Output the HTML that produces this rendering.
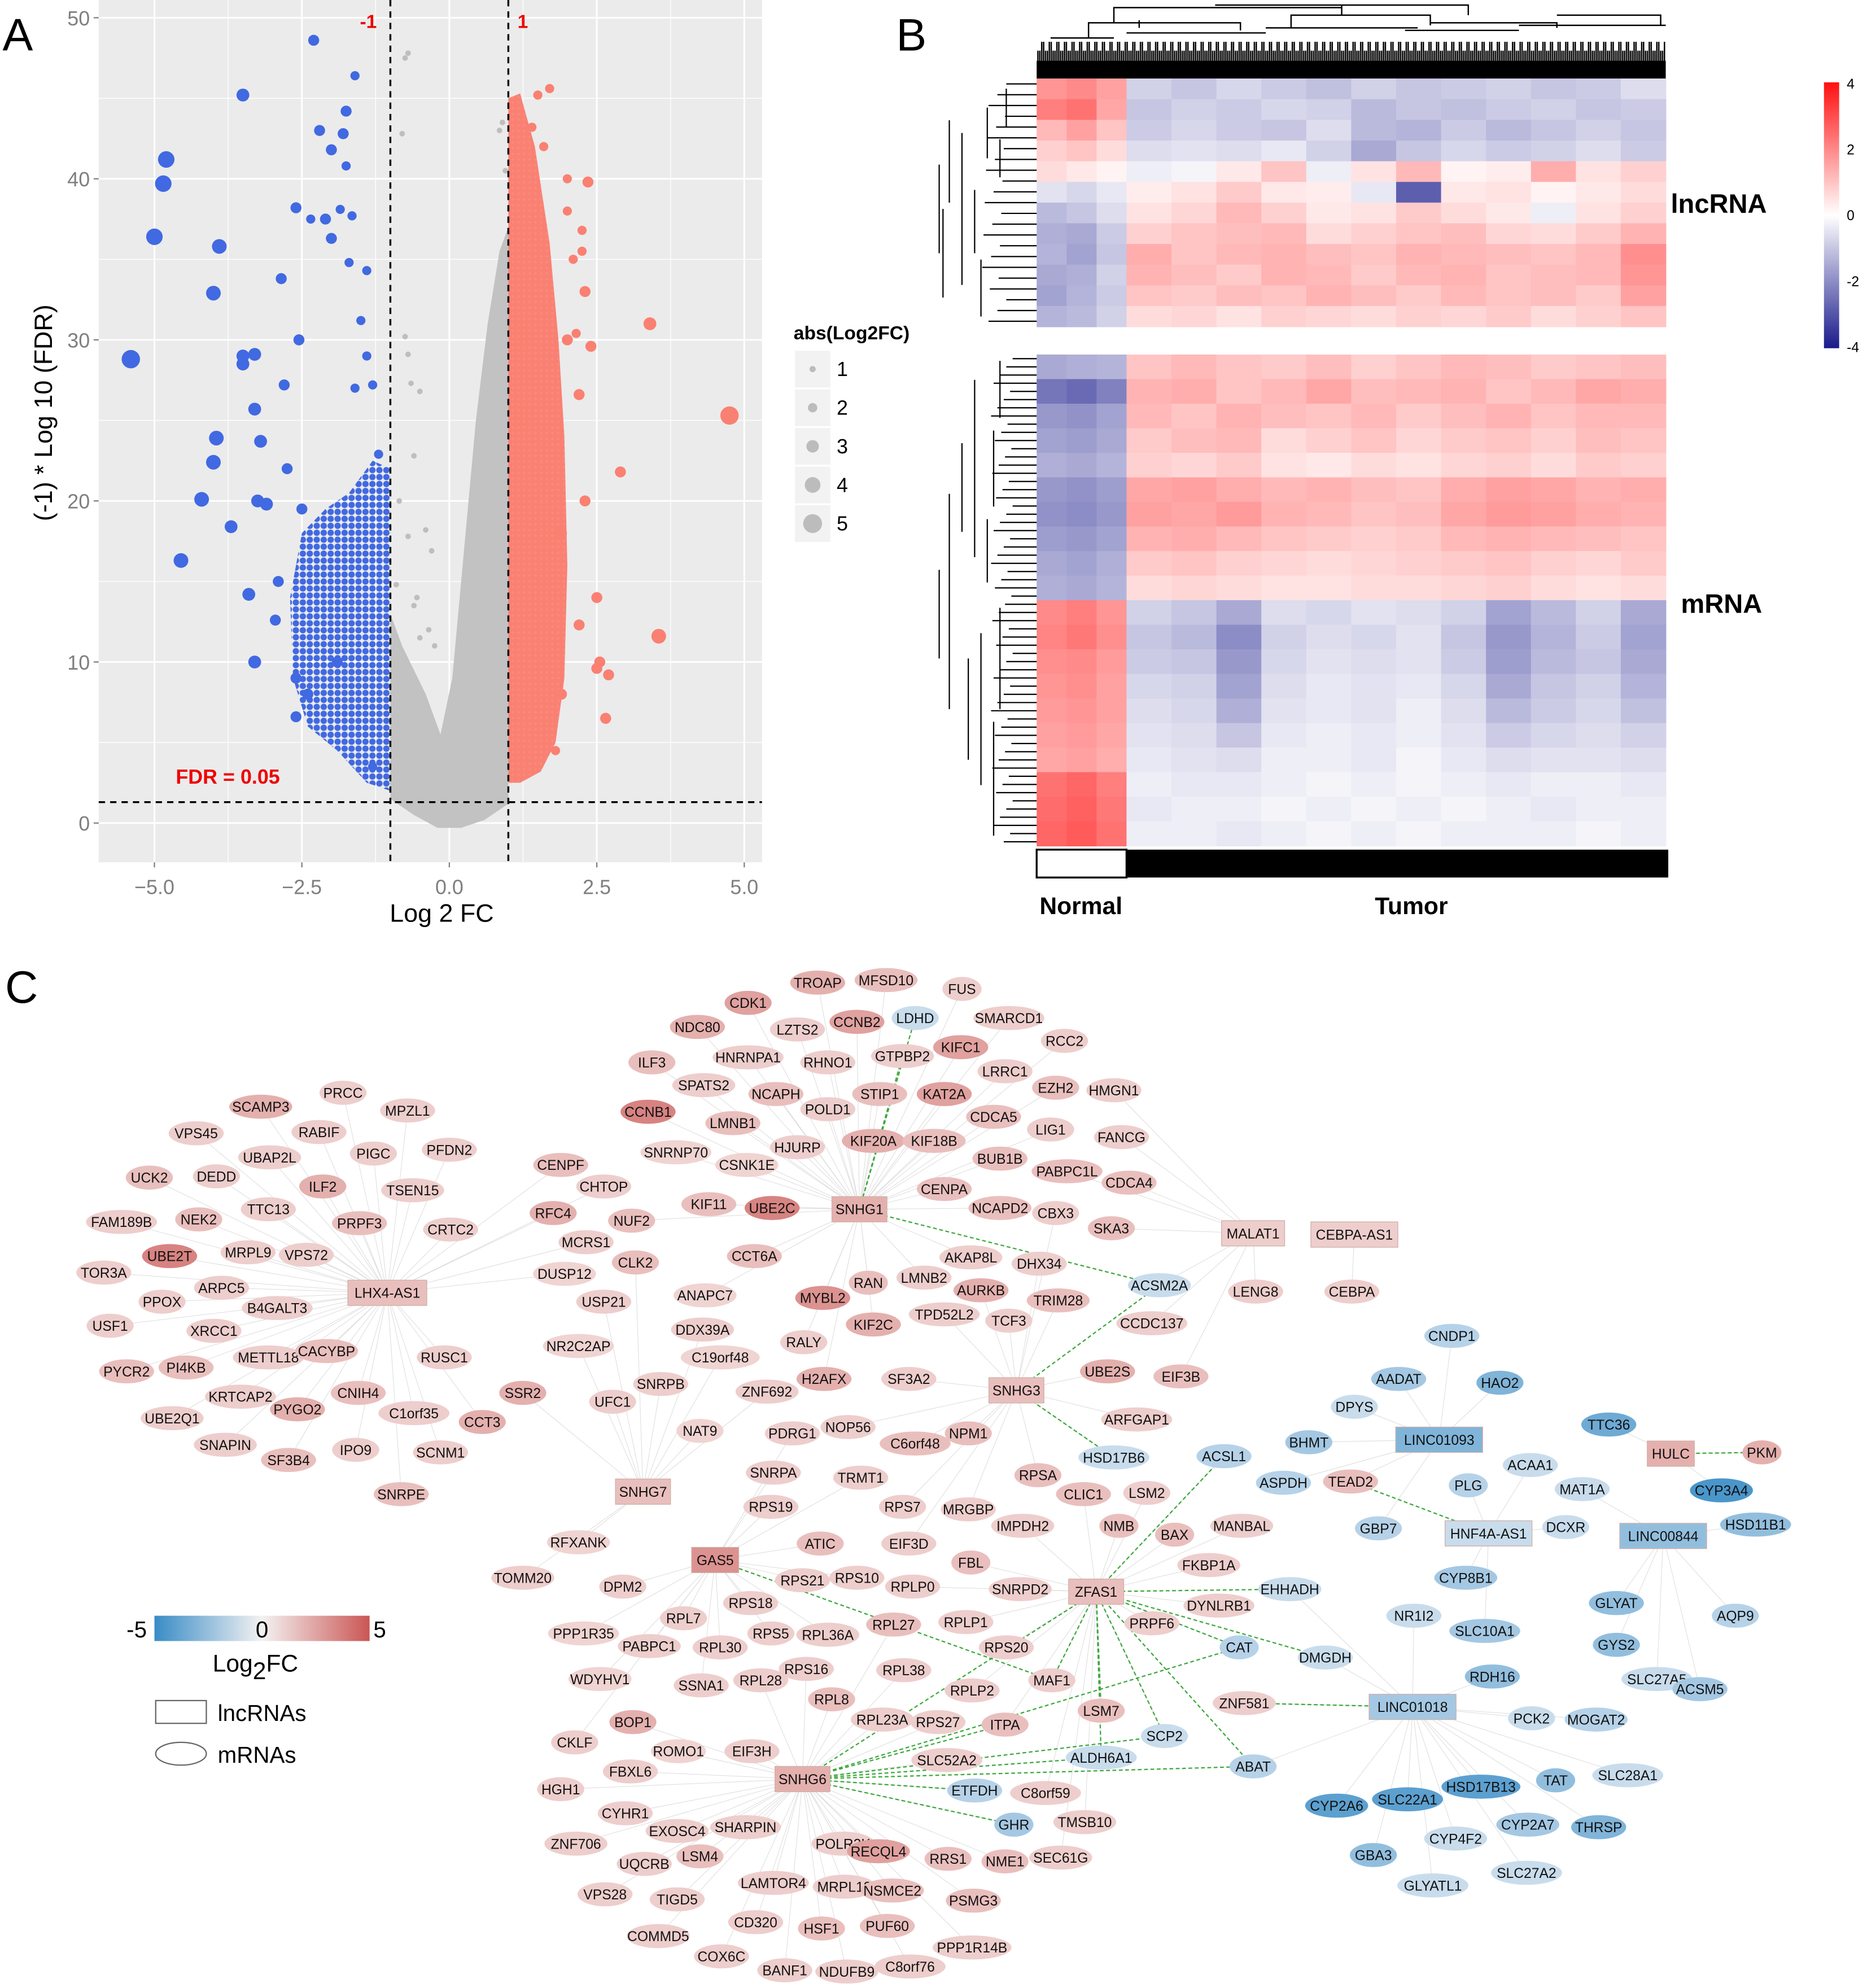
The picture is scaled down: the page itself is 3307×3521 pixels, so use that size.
<!DOCTYPE html>
<html><head><meta charset="utf-8"><style>
html,body{margin:0;padding:0;background:#fff}
svg{display:block;font-family:"Liberation Sans",sans-serif}
</style></head><body>
<svg id="fig" xmlns="http://www.w3.org/2000/svg" width="3307" height="3521" viewBox="0 0 1475 1570" preserveAspectRatio="none">
<defs>
<pattern id="pBlue" width="5.5" height="5.5" patternUnits="userSpaceOnUse"><circle cx="2.75" cy="2.75" r="2.5" fill="#4169e1"/></pattern>
<pattern id="pRed" width="4.5" height="4.5" patternUnits="userSpaceOnUse"><rect width="4.5" height="4.5" fill="#f68a7d"/><circle cx="2.25" cy="2.25" r="2.3" fill="#fa8072"/></pattern>
<pattern id="pGrey" width="4" height="4" patternUnits="userSpaceOnUse"><circle cx="2" cy="2" r="1.9" fill="#bebebe"/></pattern>
</defs>
<g id="gA"></g>
<g id="gB"></g>
<g id="gC"></g>
<text x="2" y="40" font-size="36">A</text>
<text x="708" y="40" font-size="36">B</text>
<text x="4" y="792" font-size="36">C</text>
</svg>
<script>
// ---------- Panel A data ----------
const blueX=[-5.4,-5.0,-4.8,-4.85,-4.55,-4.2,-3.9,-4.0,-3.95,-4.0,-3.7,-3.5,-3.5,-3.4,-3.3,-3.25,-3.2,-3.3,-3.3,-3.5,-3.1,-2.9,-2.95,-2.85,-2.8,-2.75,-2.6,-2.55,-2.5,-2.6,-2.3,-2.2,-2.1,-2.0,-2.0,-1.8,-1.75,-1.6,-1.7,-1.6,-1.4,-1.5,-1.3,-1.4,-1.2,-1.75,-1.65,-1.85,-2.35,-2.6,-2.4,-1.9,-1.3];
const blueY=[28.8,36.4,41.2,39.7,16.3,20.1,35.8,32.9,23.9,22.4,18.4,29.0,28.5,14.2,10.0,20.0,23.7,25.7,29.1,45.2,19.8,15.0,12.6,33.8,27.2,22.0,6.6,30.0,19.5,38.2,48.6,43.0,37.5,36.3,41.8,42.8,44.2,46.4,34.8,27.0,34.3,31.2,27.2,29.0,22.9,40.8,37.7,38.1,37.5,9.0,8.0,10.0,3.5];
const blueS=[5,4.5,4.5,4.5,4,4,4,4,4,4,3.5,3.5,3.5,3.5,3.5,3.5,3.5,3.5,3.5,3.5,3.5,3,3,3,3,3,3,3,3,3,3,3,3,3,3,3,3,2.5,2.5,2.5,2.5,2.5,2.5,2.5,2.5,2.5,2.5,2.5,2.5,3,3,3,2.5];
const redX=[4.75,3.55,3.4,2.9,2.65,2.5,2.55,2.5,2.3,2.2,1.7,1.5,2.0,2.3,2.4,2.1,2.0,2.7,2.35,1.9,1.8,2.2,1.6,1.4,2.0,1.9,2.25,2.25,2.15];
const redY=[25.3,11.6,31.0,21.8,6.5,9.6,10.0,14.0,20.0,26.6,45.6,45.2,38.0,33.0,29.6,35.0,40.0,9.2,39.8,8.0,4.5,12.3,42.0,43.2,30.0,18.0,36.8,35.5,30.4];
const redS=[5,4,3.5,3,3,3,3,3,3,3,2.5,2.5,2.5,3,3,2.5,2.5,3,3,3,2.5,3,2.5,2.5,3,3,2.5,2.5,2.5];
const greyX=[-0.7,-0.75,-0.8,-0.75,-0.7,-0.5,-0.65,0.9,0.85,-0.85,-0.6,-0.4,-0.3,-0.7,-0.9,0.95,-0.55,-0.35,-0.5,-0.6,-0.25];
const greyY=[47.8,47.5,42.8,30.2,29.1,26.8,27.3,43.5,43.0,20.0,22.8,18.2,16.9,17.8,14.8,40.5,14.0,12.0,11.5,13.5,11.0];
// density clouds (polygon vertices in data units)
const cloudGreyX=[-1.0,-1.0,-0.8,-0.4,-0.15,0.05,0.25,0.45,0.65,0.85,1.0,1.0,0.6,0.2,-0.2,-0.6];
const cloudGreyY=[1.5,13,11,8,5.5,9,17,25,31,35.5,37,1.2,0.2,-0.3,-0.3,0.5];
const cloudBlueX=[-1.0,-1.4,-1.9,-2.4,-2.65,-2.7,-2.5,-2.1,-1.7,-1.3,-1.0];
const cloudBlueY=[2.0,2.5,4.5,6.0,9,14,18,19.5,20.5,22.5,22];
const cloudRedX=[1.0,1.0,1.2,1.45,1.7,1.85,1.95,2.0,1.95,1.8,1.55,1.2];
const cloudRedY=[2.5,45,45.3,42,36,30,24,16,9,5,3.2,2.5];
const xTicks=[-5,-2.5,0,2.5,5];
const xTickLabels=["\u22125.0","\u22122.5","0.0","2.5","5.0"];
const yTicks=[0,10,20,30,40,50];
const legendSizes=[1,2,3,4,5];

const NS="http://www.w3.org/2000/svg";
function E(tag,attrs,parent,txt){const e=document.createElementNS(NS,tag);for(const k in attrs)e.setAttribute(k,attrs[k]);if(txt!==undefined)e.textContent=txt;parent.appendChild(e);return e;}
const xA=v=>355+v*46.6, yA=v=>650-v*12.72;
const gA=document.getElementById('gA');
let el=E('rect',{x:78,y:0,width:524,height:681,fill:'#ebebeb'},gA);


for(let v=-6.25;v<=6;v+=1.25){const x=xA(v);if(x<78||x>602)continue;const maj=Math.abs(v/2.5-Math.round(v/2.5))<1e-6;
 el=E('line',{x1:x,x2:x,y1:0,y2:681,stroke:'#fff','stroke-width':maj?1.3:0.6},gA);
 
 }
for(let v=-5;v<=55;v+=5){const y=yA(v);if(y<0||y>681)continue;
 el=E('line',{x1:78,x2:602,y1:y,y2:y,stroke:'#fff','stroke-width':v%10===0?1.3:0.6},gA);
 
 }
function poly(xs,ys,fill,name){const pts=xs.map((x,i)=>xA(x)+','+yA(ys[i])).join(' ');
 el=E('polygon',{points:pts,fill:fill},gA);
 
 }
poly(cloudGreyX,cloudGreyY,'#c2c2c2','grey-point-cloud');
poly(cloudBlueX,cloudBlueY,'url(#pBlue)','blue-point-cloud');
poly(cloudRedX,cloudRedY,'url(#pRed)','red-point-cloud');
greyX.forEach((x,i)=>{el=E('circle',{cx:xA(x),cy:yA(greyY[i]),r:2.2,fill:'#bebebe'},gA);
 
 });
blueX.forEach((x,i)=>{el=E('circle',{cx:xA(x),cy:yA(blueY[i]),r:blueS[i]*1.45,fill:'#4169e1'},gA);
 
 });
redX.forEach((x,i)=>{el=E('circle',{cx:xA(x),cy:yA(redY[i]),r:redS[i]*1.45,fill:'#fa8072'},gA);
 
 });
[-1,1].forEach(v=>{el=E('line',{x1:xA(v),x2:xA(v),y1:0,y2:681,stroke:'#000','stroke-width':1.5,'stroke-dasharray':'5,4'},gA);
 
 });
el=E('line',{x1:78,x2:602,y1:yA(1.3),y2:yA(1.3),stroke:'#000','stroke-width':1.5,'stroke-dasharray':'5,4'},gA);


xTicks.forEach((v,i)=>{E('line',{x1:xA(v),x2:xA(v),y1:681,y2:685,stroke:'#7f7f7f'},gA);
 el=E('text',{x:xA(v),y:706,'font-size':16,fill:'#7f7f7f','text-anchor':'middle'},gA,xTickLabels[i]);
 
 });
yTicks.forEach(v=>{E('line',{x1:74,x2:78,y1:yA(v),y2:yA(v),stroke:'#7f7f7f'},gA);
 el=E('text',{x:71,y:yA(v)+6,'font-size':16,fill:'#7f7f7f','text-anchor':'end'},gA,String(v));
 
 });
el=E('text',{x:349,y:728,'font-size':20,'text-anchor':'middle'},gA,'Log 2 FC');


el=E('text',{x:0,y:0,'font-size':20,'text-anchor':'middle',transform:'translate(41,326) rotate(-90)'},gA,'(-1) * Log 10 (FDR)');


el=E('text',{x:291,y:22,'font-size':15,fill:'#e00','font-weight':'bold','text-anchor':'middle'},gA,'-1');


el=E('text',{x:413,y:22,'font-size':15,fill:'#e00','font-weight':'bold','text-anchor':'middle'},gA,'1');


el=E('text',{x:180,y:619,'font-size':16,fill:'#e00','font-weight':'bold','text-anchor':'middle'},gA,'FDR = 0.05');


el=E('text',{x:627,y:268,'font-size':15,'font-weight':'bold'},gA,'abs(Log2FC)');


legendSizes.forEach((s,i)=>{const y=277+i*30.5;
 E('rect',{x:628,y:y,width:28,height:29,fill:'#f2f2f2'},gA);
 el=E('circle',{cx:642,cy:y+14.5,r:1.2+s*1.25,fill:'#bcbcbc'},gA);
 
 
 el=E('text',{x:661,y:y+20,'font-size':16},gA,String(s));
 
 });

// ---------- Panel B data ----------
const lncMatrix=[
[1.8,2.0,1.6,-0.8,-1.0,-0.7,-0.9,-1.1,-0.8,-1.0,-0.9,-0.8,-1.0,-0.9,-0.6],
[2.2,2.4,1.5,-1.0,-0.8,-0.9,-0.7,-0.8,-1.2,-1.0,-1.1,-0.9,-0.8,-1.0,-0.9],
[1.2,1.6,1.0,-0.9,-0.7,-0.9,-1.0,-0.6,-1.2,-1.3,-0.9,-1.2,-1.0,-0.8,-1.0],
[0.8,1.0,0.6,-0.6,-0.5,-0.6,-0.4,-0.8,-1.5,-1.0,-0.7,-0.9,-0.8,-0.6,-0.9],
[0.6,0.4,0.2,-0.3,-0.2,0.4,1.0,-0.3,0.5,1.2,0.2,0.3,1.4,0.5,0.8],
[-0.5,-0.7,-0.4,0.3,0.5,0.9,0.4,0.3,-0.4,-2.8,0.4,0.5,0.2,0.4,0.6],
[-1.2,-1.0,-0.6,0.5,0.7,1.2,0.8,0.4,0.5,0.9,0.6,0.4,-0.3,0.5,0.8],
[-1.4,-1.5,-0.9,0.8,1.0,1.1,1.2,0.6,0.8,1.0,1.1,0.7,0.6,0.9,1.3],
[-1.3,-1.6,-1.0,1.4,1.0,1.2,1.3,1.1,1.0,1.3,1.2,1.1,1.0,1.2,1.9],
[-1.5,-1.4,-0.8,1.3,1.1,0.9,1.3,1.2,0.9,1.2,1.3,1.0,1.1,1.2,1.8],
[-1.6,-1.3,-0.9,1.0,0.9,1.1,1.0,1.3,1.1,0.9,1.2,1.0,1.1,0.9,1.6],
[-1.3,-1.2,-0.8,0.6,0.7,0.5,0.8,0.7,0.6,0.8,0.7,0.9,0.6,0.8,1.0]];
const mrnaMatrix=[
[-1.5,-1.4,-1.3,1.0,1.2,1.0,0.9,1.1,0.8,1.0,1.2,1.1,0.9,1.0,1.1],
[-2.4,-2.6,-2.2,1.3,1.4,1.0,1.2,1.5,1.1,1.2,1.3,1.0,1.2,1.5,1.4],
[-1.8,-1.9,-1.6,1.2,1.0,1.3,1.1,1.0,1.2,0.9,1.1,1.3,1.0,1.2,1.2],
[-1.6,-1.7,-1.5,0.9,1.1,1.2,0.6,0.8,1.0,0.7,0.9,1.0,0.8,1.1,1.0],
[-1.4,-1.5,-1.3,0.8,0.7,0.9,0.5,0.4,0.6,0.5,0.7,0.8,0.6,0.9,0.8],
[-1.8,-1.9,-1.7,1.5,1.6,1.4,1.2,1.3,1.1,1.0,1.4,1.6,1.5,1.3,1.4],
[-1.9,-2.0,-1.8,1.6,1.5,1.7,1.3,1.2,1.0,1.1,1.5,1.7,1.6,1.4,1.3],
[-1.7,-1.8,-1.6,1.3,1.4,1.2,1.0,0.9,0.8,0.9,1.2,1.3,1.2,1.1,1.0],
[-1.5,-1.6,-1.4,0.9,1.0,0.8,0.7,0.6,0.7,0.8,0.9,1.0,0.8,0.7,0.9],
[-1.4,-1.5,-1.3,0.6,0.7,0.6,0.5,0.5,0.6,0.6,0.7,0.8,0.6,0.5,0.6],
[2.0,2.2,1.8,-0.8,-1.0,-1.5,-0.6,-0.7,-0.5,-0.6,-0.8,-1.6,-1.2,-0.8,-1.5],
[2.1,2.3,1.9,-1.0,-1.2,-2.0,-0.8,-0.6,-0.7,-0.5,-1.0,-1.8,-1.3,-0.9,-1.6],
[1.9,2.0,1.7,-0.9,-1.0,-1.8,-0.7,-0.5,-0.6,-0.5,-0.9,-1.7,-1.2,-1.0,-1.5],
[1.8,1.9,1.6,-0.7,-0.8,-1.6,-0.6,-0.4,-0.5,-0.4,-0.7,-1.5,-1.0,-0.8,-1.3],
[1.7,1.8,1.6,-0.6,-0.7,-1.4,-0.5,-0.4,-0.5,-0.3,-0.6,-1.2,-0.9,-0.7,-1.1],
[1.6,1.7,1.5,-0.5,-0.6,-1.0,-0.4,-0.3,-0.4,-0.3,-0.5,-0.9,-0.7,-0.6,-0.8],
[1.5,1.6,1.4,-0.4,-0.5,-0.6,-0.3,-0.3,-0.4,-0.2,-0.4,-0.6,-0.5,-0.5,-0.6],
[2.4,2.6,2.2,-0.3,-0.4,-0.4,-0.3,-0.2,-0.3,-0.2,-0.3,-0.4,-0.3,-0.3,-0.4],
[2.5,2.7,2.3,-0.4,-0.3,-0.3,-0.2,-0.3,-0.2,-0.3,-0.2,-0.3,-0.4,-0.3,-0.3],
[2.6,2.8,2.4,-0.3,-0.3,-0.4,-0.3,-0.2,-0.3,-0.2,-0.3,-0.3,-0.3,-0.2,-0.3]];
const colorTicks=[4,2,0,-2,-4];
function heat(v){const t=Math.min(1,Math.abs(v)/4);
 if(v>=0){return `rgb(255,${Math.round(255-235*t)},${Math.round(255-235*t)})`;}
 return `rgb(${Math.round(255-230*t)},${Math.round(255-230*t)},${Math.round(255-115*t)})`;}
const gB=document.getElementById('gB');
const colEdges=[];for(let i=0;i<=3;i++)colEdges.push(819+i*(890-819)/3);for(let i=1;i<=12;i++)colEdges.push(890+i*(1316-890)/12);
function drawMat(M,y0,y1,name){const rh=(y1-y0)/M.length;
 M.forEach((row,r)=>row.forEach((v,c)=>{el=E('rect',{x:colEdges[c],y:y0+r*rh,width:colEdges[c+1]-colEdges[c]+0.4,height:rh+0.4,fill:heat(v)},gB);
  
  }));}
drawMat(lncMatrix,62,258,'lncrna-heatmap-cell');
drawMat(mrnaMatrix,280,668,'mrna-heatmap-cell');
// top dendrogram (structure lines)
const dg=E('g',{stroke:'#000','stroke-width':1.1,fill:'none'},gB);


let dp='';
for(let x=820;x<1316;x+=1.5)dp+=`M${x},62V${40-((Math.round(x)*7)%14)}`;
E('path',{d:dp},dg);
E('rect',{x:819,y:48,width:497,height:14,fill:'#000',stroke:'none'},dg);
E('path',{d:'M830,30H880 M890,26H1000 M1000,22H1120 M1110,24H1200 M1200,20H1316 M860,30V18H980V24 M900,22V16 M1020,22V12H1130V20 M1130,18H1230V22 M1230,12H1312V20 M880,18V6H1060V12 M1060,8V4 M960,4H1160V12'},dg);
// left dendrograms
const lg=E('g',{stroke:'#000','stroke-width':1,fill:'none'},gB);


let p='';
const lncRows=23;for(let i=0;i<lncRows;i++){const y=62+(i+0.5)*196/lncRows;p+=`M819,${y}H${795-((i*7)%20)}`;}
const mRows=60;for(let i=0;i<mRows;i++){const y=280+(i+0.5)*388/mRows;p+=`M819,${y}H${800-((i*5)%18)}`;}
p+='M795,70V100 M790,110V140 M780,85V125 M770,150V200 M775,205V250 M760,105V225 M750,95V160 M745,165V235 M742,130V200';
p+='M790,285V330 M785,340V400 M780,410V460 M770,300V440 M760,350V420 M790,480V560 M785,570V660 M775,500V620 M765,520V600 M750,390V560 M742,450V520';
E('path',{d:p},lg);
el=E('text',{x:1320,y:168,'font-size':21,'font-weight':'bold'},gB,'lncRNA');


el=E('text',{x:1328,y:484,'font-size':21,'font-weight':'bold'},gB,'mRNA');


el=E('rect',{x:819,y:671,width:71,height:22,fill:'#fff',stroke:'#000','stroke-width':1.5},gB);


el=E('rect',{x:890,y:671,width:428,height:22,fill:'#000'},gB);


el=E('text',{x:854,y:722,'font-size':19,'font-weight':'bold','text-anchor':'middle'},gB,'Normal');


el=E('text',{x:1115,y:722,'font-size':19,'font-weight':'bold','text-anchor':'middle'},gB,'Tumor');


const defs=document.querySelector('defs');
const lgd=E('linearGradient',{id:'hbar',x1:0,y1:0,x2:0,y2:1},defs);
E('stop',{offset:'0','stop-color':'#ff1010'},lgd);E('stop',{offset:'0.5','stop-color':'#ffffff'},lgd);E('stop',{offset:'1','stop-color':'#1a1a8c'},lgd);
el=E('rect',{x:1441,y:65,width:12,height:210,fill:'url(#hbar)'},gB);


colorTicks.forEach((v,i)=>{el=E('text',{x:1459,y:70+i*52,'font-size':11},gB,String(v));
 
 });

// ---------- Panel C data ----------
const nodeNames=["TROAP","MFSD10","FUS","CDK1","NDC80","LZTS2","CCNB2","LDHD","SMARCD1","KIFC1","RCC2","ILF3","HNRNPA1","RHNO1","GTPBP2","LRRC1","SPATS2","NCAPH","STIP1","KAT2A","EZH2","HMGN1","CCNB1","POLD1","CDCA5","LMNB1","LIG1","HJURP","KIF20A","KIF18B","FANCG","SNRNP70","CSNK1E","BUB1B","PABPC1L","CDCA4","CENPF","CHTOP","CENPA","NCAPD2","CBX3","KIF11","UBE2C","SNHG1","RFC4","NUF2","SKA3","MALAT1","CEBPA-AS1","CCT6A","DHX34","AKAP8L","CLK2","MCRS1","ACSM2A","LENG8","CEBPA","DUSP12","RAN","LMNB2","AURKB","TRIM28","ANAPC7","MYBL2","USP21","KIF2C","TPD52L2","TCF3","CCDC137","DDX39A","NR2C2AP","RALY","C19orf48","UBE2S","EIF3B","H2AFX","SF3A2","SNHG3","SNRPB","ZNF692","ARFGAP1","UFC1","NAT9","PDRG1","NOP56","C6orf48","NPM1","HSD17B6","ACSL1","BHMT","LINC01093","CNDP1","AADAT","HAO2","DPYS","TTC36","ACAA1","HULC","PKM","CYP3A4","MAT1A","PLG","TEAD2","ASPDH","SNRPA","TRMT1","RPSA","LSM2","CLIC1","SNHG7","RPS19","RPS7","MRGBP","IMPDH2","NMB","BAX","MANBAL","GBP7","HNF4A-AS1","DCXR","LINC00844","HSD11B1","RFXANK","ATIC","EIF3D","GAS5","FBL","FKBP1A","TOMM20","RPS21","RPS10","RPLP0","SNRPD2","ZFAS1","EHHADH","CYP8B1","DPM2","RPS18","DYNLRB1","GLYAT","AQP9","NR1I2","PPP1R35","RPL7","RPL27","RPLP1","PRPF6","SLC10A1","RPS5","RPL36A","PABPC1","RPL30","RPS20","CAT","DMGDH","GYS2","SLC27A5","ACSM5","WDYHV1","RPS16","RPL38","MAF1","RDH16","RPL28","SSNA1","RPLP2","ZNF581","LINC01018","PCK2","MOGAT2","BOP1","RPL8","RPL23A","RPS27","ITPA","LSM7","SCP2","CKLF","ROMO1","EIF3H","SLC52A2","ALDH6A1","ABAT","HGH1","FBXL6","SNHG6","ETFDH","C8orf59","HSD17B13","TAT","SLC28A1","SLC22A1","CYP2A6","CYHR1","SHARPIN","GHR","TMSB10","CYP2A7","THRSP","EXOSC4","ZNF706","POLR2K","RECQL4","CYP4F2","UQCRB","LSM4","RRS1","NME1","SEC61G","GBA3","VPS28","LAMTOR4","MRPL13","NSMCE2","TIGD5","PSMG3","SLC27A2","GLYATL1","CD320","HSF1","PUF60","PPP1R14B","COMMD5","COX6C","BANF1","NDUFB9","C8orf76","PRCC","SCAMP3","MPZL1","VPS45","RABIF","UBAP2L","PIGC","PFDN2","UCK2","DEDD","ILF2","TSEN15","TTC13","FAM189B","NEK2","PRPF3","CRTC2","UBE2T","MRPL9","VPS72","TOR3A","ARPC5","LHX4-AS1","PPOX","B4GALT3","USF1","XRCC1","METTL18","CACYBP","RUSC1","PYCR2","PI4KB","KRTCAP2","CNIH4","PYGO2","C1orf35","UBE2Q1","SSR2","CCT3","SNAPIN","IPO9","SCNM1","SF3B4","SNRPE"];
const nodeX=[646,700,760,591,551,630,677,723,797,759,841,515,591,654,713,794,556,613,695,746,834,880,512,654,785,579,830,630,690,738,886,534,590,790,843,892,443,477,746,790,834,560,610,679,437,499,878,990,1070,596,821,767,502,463,916,992,1068,446,686,730,775,836,557,650,477,690,746,797,910,555,457,635,569,875,933,651,718,803,522,606,898,484,553,626,670,723,765,880,967,1034,1137,1147,1105,1185,1070,1271,1209,1320,1392,1360,1250,1160,1067,1014,611,680,820,906,856,508,609,713,765,808,884,928,981,1089,1176,1237,1314,1387,457,648,718,565,767,955,413,634,677,721,806,866,1019,1158,492,593,963,1277,1371,1117,461,540,706,763,910,1173,609,654,513,569,795,979,1047,1277,1309,1343,474,637,714,831,1179,601,554,768,983,1116,1210,1261,500,657,697,741,794,870,920,454,536,594,748,870,990,443,498,634,770,826,1170,1229,1286,1112,1056,494,589,801,857,1207,1263,535,455,666,694,1150,509,553,749,794,838,1085,478,611,667,705,535,769,1206,1132,597,649,701,768,520,570,620,669,719,271,206,322,155,252,213,295,355,118,171,255,326,212,96,157,284,356,134,196,242,82,175,306,128,219,87,169,212,258,351,100,147,190,283,235,327,136,413,381,178,281,348,228,317];
const nodeY=[776,774,781,792,811,813,807,804,804,827,822,839,835,839,834,846,857,864,864,864,859,861,878,876,882,887,892,906,901,901,898,910,920,915,925,934,920,937,939,954,958,951,954,955,958,964,970,974,975,992,998,993,997,981,1015,1020,1020,1006,1013,1009,1019,1027,1023,1025,1028,1046,1038,1043,1045,1050,1063,1060,1072,1083,1087,1089,1089,1098,1093,1099,1121,1107,1130,1132,1127,1140,1132,1151,1150,1139,1137,1055,1089,1092,1111,1125,1157,1148,1147,1177,1176,1173,1170,1171,1163,1167,1165,1179,1180,1178,1190,1190,1192,1205,1205,1212,1205,1207,1211,1206,1213,1204,1218,1219,1219,1232,1234,1236,1246,1248,1246,1253,1255,1257,1255,1246,1253,1266,1268,1266,1276,1276,1290,1278,1283,1281,1282,1288,1290,1291,1300,1301,1301,1301,1309,1299,1326,1334,1326,1318,1319,1327,1324,1327,1331,1335,1345,1348,1357,1358,1360,1342,1358,1360,1362,1351,1371,1376,1383,1383,1390,1388,1395,1413,1399,1405,1414,1416,1411,1406,1402,1421,1426,1432,1443,1441,1439,1441,1443,1446,1456,1456,1462,1452,1472,1466,1468,1470,1467,1465,1496,1487,1490,1493,1500,1501,1479,1489,1518,1523,1521,1538,1529,1545,1556,1557,1553,863,874,877,895,894,914,911,908,930,929,937,940,955,965,963,966,971,992,989,991,1005,1017,1021,1028,1033,1047,1051,1072,1067,1072,1083,1080,1103,1100,1113,1116,1120,1100,1123,1141,1145,1147,1153,1180];
const nodeFC=[2,1.5,1,2.5,2,1,2.5,-1,1,2.5,1,1.5,1,1,1,1,1,1.5,1.5,2.5,1.5,1,3.5,1,1.5,1.5,1,1,2,1.5,1,0.8,0.8,1.5,1.5,1.5,1.5,1,1.5,1.5,1,1.5,3.5,2,2,1.5,1.5,1,1,1.5,1,1,1.5,1,-1,1,1,0.8,1.5,1,2,1.5,0.8,3,1,2,1,1,1,1,0.8,1,0.8,2,1.5,2,1,1.5,1,1,1,1,0.8,1,1,1.5,1.5,-1,-1.5,-2,-3,-1.5,-2,-3,-1,-3.5,-1,2,2,-4.5,-1,-1.5,1.5,-1.5,1,1,1.5,1,1.5,1.5,1,1,1,1,1.5,1.5,1,-1.5,-1,-1,-2.5,-2.5,0.8,1.5,1,3,1.5,1,1,1,1,1,1,1.5,-1,-2,1,1,1,-2.5,-1.5,-1,0.8,1,1.5,1,1,-2,1,1,1,1,1,-1.5,-1,-2.5,-1,-2,0.8,1,1,1,-2.5,1,1,1,1,-2,-1,-1.5,2,1.5,1,1,1.5,1.5,-1,1,0.8,1,1,-1,-1.5,1,1,2,-1.5,1,-4,-2.5,-1,-4,-4,1,1,-2,1,-2,-3,1,1,1,2.5,-1,1,1.5,1.5,1.5,1,-2.5,1,1,1,1.5,1,1.5,-1,-1,1,1.5,1.5,1,1,1,1,1,1,1,2,1,1,1,1,1,1,1.5,1,2,1,1,1,1.5,1.5,1,3.5,1,1,1,1,1.5,1,1,1,1,1,1.5,1,1.5,1.5,1,1.5,2,1,1,2,2,1,1,1,1.5,1.5];
const hubNames=["LHX4-AS1","SNHG1","SNHG3","SNHG7","GAS5","ZFAS1","SNHG6","LINC01093","HNF4A-AS1","LINC00844","LINC01018","HULC","MALAT1","CEBPA-AS1"];
const coexpFrom=["SNHG1","SNHG1","SNHG1","SNHG3","ZFAS1","ZFAS1","ZFAS1","ZFAS1","ZFAS1","ZFAS1","ZFAS1","ZFAS1","SNHG6","SNHG6","SNHG6","SNHG6","SNHG6","SNHG6","SNHG6","GAS5","HULC","TEAD2","ZNF581","SNHG3","ZFAS1","SNHG6"];
const coexpTo=["GTPBP2","LDHD","ACSM2A","HSD17B6","ACSL1","EHHADH","DMGDH","CAT","SCP2","ABAT","ALDH6A1","MAF1","ETFDH","GHR","SCP2","ALDH6A1","ABAT","CAT","ZFAS1","MAF1","PKM","HNF4A-AS1","LINC01018","ACSM2A","LSM7","ITPA"];
const legendFC=[-5,0,5];

function nodeColor(c){const t=Math.min(1,Math.abs(c)/5);
 if(c>=0)return `rgb(${Math.round(246-44*t)},${Math.round(236-150*t)},${Math.round(234-150*t)})`;
 return `rgb(${Math.round(236-180*t)},${Math.round(240-100*t)},${Math.round(246-48*t)})`;}
const gC=document.getElementById('gC');
const idx={};nodeNames.forEach((n,i)=>idx[n]=i);
const edgeG=E('g',{stroke:'#dcdcdc','stroke-width':0.45},gC);


nodeNames.forEach((n,i)=>{if(hubNames.includes(n))return;let best=null,bd=1e9;
 hubNames.forEach(h=>{const j=idx[h];const d=Math.hypot(nodeX[j]-nodeX[i],nodeY[j]-nodeY[i]);if(d<bd){bd=d;best=j;}});
 el=E('line',{x1:nodeX[i],y1:nodeY[i],x2:nodeX[best],y2:nodeY[best]},edgeG);
 
 });
const gEdge=E('g',{stroke:'#3aa83a','stroke-width':1,'stroke-dasharray':'3,2'},gC);


coexpFrom.forEach((f,k)=>{const a=idx[f],b=idx[coexpTo[k]];
 el=E('line',{x1:nodeX[a],y1:nodeY[a],x2:nodeX[b],y2:nodeY[b]},gEdge);
 
 });
nodeNames.forEach((n,i)=>{const g=E('g',{},gC);
 
 
 const w=n.length*6.3+12, isHub=hubNames.includes(n);
 if(isHub)E('rect',{x:nodeX[i]-w/2,y:nodeY[i]-10,width:w,height:20,fill:nodeColor(nodeFC[i]),stroke:'#d0b0a8','stroke-width':0.6},g);
 else E('ellipse',{cx:nodeX[i],cy:nodeY[i],rx:w/2,ry:9.5,fill:nodeColor(nodeFC[i])},g);
 E('text',{x:nodeX[i],y:nodeY[i]+4,'font-size':11,'text-anchor':'middle',fill:'#111'},g,n);});
// legend
const lg2=E('linearGradient',{id:'fcbar',x1:0,y1:0,x2:1,y2:0},defs);
E('stop',{offset:'0','stop-color':nodeColor(-5)},lg2);E('stop',{offset:'0.5','stop-color':'#f4f2f2'},lg2);E('stop',{offset:'1','stop-color':nodeColor(5)},lg2);
el=E('rect',{x:122,y:1276,width:170,height:20,fill:'url(#fcbar)'},gC);


legendFC.forEach((v,i)=>{el=E('text',{x:[108,207,300][i],y:1293,'font-size':18,'text-anchor':'middle'},gC,v<0?'-5':String(v));
 
 });
el=E('text',{x:168,y:1320,'font-size':19},gC);
el.innerHTML='Log<tspan dy="6" font-size="19">2</tspan><tspan dy="-6">FC</tspan>';


el=E('rect',{x:123,y:1343,width:40,height:18,fill:'#fff',stroke:'#666'},gC);


el=E('text',{x:172,y:1359,'font-size':18},gC,'lncRNAs');


el=E('ellipse',{cx:143,cy:1385,rx:20,ry:9,fill:'#fff',stroke:'#666'},gC);


el=E('text',{x:172,y:1392,'font-size':18},gC,'mRNAs');


</script>
</body></html>
